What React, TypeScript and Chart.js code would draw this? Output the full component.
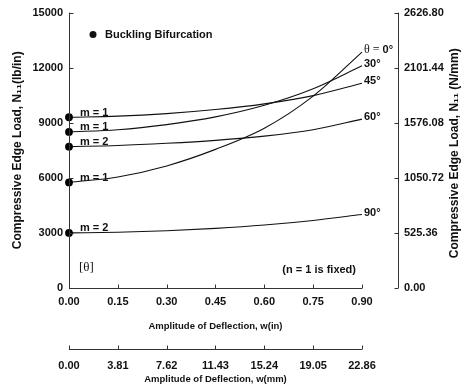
import React, { useEffect, useRef } from 'react';
import { Chart, registerables } from 'chart.js';

Chart.register(...registerables);

// ---- data ----
const W_IN = [0, 0.15, 0.3, 0.45, 0.6, 0.75, 0.9];
const LOAD_0 = [5750, 6050, 6650, 7550, 8700, 10450, 12850];
const LOAD_30 = [8500, 8620, 8900, 9320, 9950, 10850, 12100];
const LOAD_45 = [9300, 9360, 9500, 9720, 10030, 10480, 11150];
const LOAD_60 = [7700, 7760, 7880, 8040, 8270, 8620, 9200];
const LOAD_90 = [3000, 3040, 3120, 3250, 3430, 3680, 4000];
const ANGLES = ['0', '30', '45', '60', '90'];
const MODES = ['m = 1', 'm = 1', 'm = 1', 'm = 2', 'm = 2'];

const X_TICKS_IN = [0, 0.15, 0.3, 0.45, 0.6, 0.75, 0.9];
const X_TICKS_MM = [0, 3.81, 7.62, 11.43, 15.24, 19.05, 22.86];
const Y_TICKS_LB = [0, 3000, 6000, 9000, 12000, 15000];
const Y_TICKS_NMM = [0, 525.36, 1050.72, 1576.08, 2101.44, 2626.8];

const X_MAX_IN = 1.0106;
const INK = '#111';
const AXIS = '#333';
const SANS = '"Liberation Sans", Arial, Helvetica, sans-serif';
const SERIF = '"Liberation Serif", "DejaVu Serif", serif';

const annotations = {
  id: 'annotations',
  afterDraw(chart: any) {
    const ctx = chart.ctx as CanvasRenderingContext2D;
    const sx = chart.scales.x;
    const sx2 = chart.scales.x2;
    const sy = chart.scales.y;
    const sy2 = chart.scales.y2;
    const r = (v: number) => Math.round(v) + 0.5;
    ctx.save();
    ctx.strokeStyle = AXIS;
    ctx.lineWidth = 1;
    const tl = 4;
    // left axis
    const lx = r(sx.getPixelForValue(0));
    ctx.beginPath();
    ctx.moveTo(lx, sy.getPixelForValue(15000));
    ctx.lineTo(lx, sy.getPixelForValue(0));
    Y_TICKS_LB.forEach((v) => {
      const py = r(sy.getPixelForValue(v));
      ctx.moveTo(lx, py);
      ctx.lineTo(lx + tl, py);
    });
    ctx.stroke();
    // bottom axis (in)
    const by = r(sy.getPixelForValue(0));
    ctx.beginPath();
    ctx.moveTo(sx.getPixelForValue(0), by);
    ctx.lineTo(sx.getPixelForValue(0.9), by);
    X_TICKS_IN.forEach((v) => {
      const px = r(sx.getPixelForValue(v));
      ctx.moveTo(px, by);
      ctx.lineTo(px, by - tl);
    });
    ctx.stroke();
    // right axis
    const rx = r(sy2.left);
    ctx.beginPath();
    ctx.moveTo(rx, sy2.getPixelForValue(2626.8));
    ctx.lineTo(rx, sy2.getPixelForValue(0));
    Y_TICKS_NMM.forEach((v) => {
      const py = r(sy2.getPixelForValue(v));
      ctx.moveTo(rx, py);
      ctx.lineTo(rx - tl, py);
    });
    ctx.stroke();
    // second bottom axis (mm)
    const b2 = r(sx2.top);
    ctx.beginPath();
    ctx.moveTo(sx2.getPixelForValue(0), b2);
    ctx.lineTo(sx2.getPixelForValue(22.86), b2);
    X_TICKS_MM.forEach((v) => {
      const px = r(sx2.getPixelForValue(v));
      ctx.moveTo(px, b2);
      ctx.lineTo(px, b2 - tl);
    });
    ctx.stroke();

    ctx.fillStyle = INK;
    // x-axis titles, centred under the tick range
    ctx.font = `bold 9.5px ${SANS}`;
    ctx.textAlign = 'center';
    ctx.textBaseline = 'middle';
    const xc = (sx.getPixelForValue(0) + sx.getPixelForValue(0.9)) / 2;
    ctx.fillText('Amplitude of Deflection, w(in)', xc, sx.bottom - 23);
    ctx.fillText('Amplitude of Deflection, w(mm)', xc, sx2.bottom - 6);

    // right title, reading bottom to top
    ctx.font = `bold 12px ${SANS}`;
    ctx.save();
    ctx.translate(sy2.right - 8, (sy2.top + sy2.bottom) / 2 + 3);
    ctx.rotate(-Math.PI / 2);
    ctx.fillText('Compressive Edge Load, N\u2081\u2081 (N/mm)', 0, 0);
    ctx.restore();

    // mode labels at the bifurcation points
    const series = [LOAD_0, LOAD_30, LOAD_45, LOAD_60, LOAD_90];
    const x0 = sx.getPixelForValue(0);
    ctx.font = `bold 11px ${SANS}`;
    ctx.textAlign = 'left';
    ctx.textBaseline = 'bottom';
    series.forEach((s, i) => {
      ctx.fillText(MODES[i], x0 + 11, sy.getPixelForValue(s[0]) + 1);
    });

    // angle labels at the line ends
    const xe = sx.getPixelForValue(0.9) + 2;
    ctx.textBaseline = 'middle';
    series.forEach((s, i) => {
      const py = sy.getPixelForValue(s[s.length - 1]) - 2;
      let px = xe;
      if (i === 0) {
        ctx.font = `12px ${SERIF}`;
        const pre = '\u03b8 = ';
        ctx.fillText(pre, px, py);
        px += ctx.measureText(pre).width;
      }
      ctx.font = `bold 11px ${SANS}`;
      ctx.fillText(ANGLES[i] + '\u00b0', px, py);
    });

    // [θ] and (n = 1 is fixed)
    const yb = sy.getPixelForValue(0);
    ctx.font = `13px ${SERIF}`;
    ctx.fillText('[\u03b8]', x0 + 10, yb - 20);
    ctx.font = `bold 11px ${SANS}`;
    ctx.textAlign = 'right';
    ctx.fillText('(n = 1 is fixed)', sx.getPixelForValue(0.9) - 6, yb - 18);

    // legend
    const ly = sy.getPixelForValue(15000) + 22;
    ctx.beginPath();
    ctx.arc(x0 + 24, ly, 3.5, 0, Math.PI * 2);
    ctx.fill();
    ctx.textAlign = 'left';
    ctx.fillText('Buckling Bifurcation', x0 + 36, ly);
    ctx.restore();
  },
};

export default function App() {
  const ref = useRef<HTMLCanvasElement>(null);
  useEffect(() => {
    if (!ref.current) return;
    const series = [LOAD_0, LOAD_30, LOAD_45, LOAD_60, LOAD_90];
    const tickFont = { family: SANS, size: 11, weight: 'bold' as const };
    const titleFont = { family: SANS, size: 12, weight: 'bold' as const };
    const noGrid = { display: false, drawTicks: false };
    const chart = new Chart(ref.current, {
      type: 'line',
      data: {
        datasets: series.map((s, i) => ({
          label: ANGLES[i],
          data: W_IN.map((w, j) => ({ x: w, y: s[j] })),
          borderColor: '#111',
          borderWidth: 1.1,
          backgroundColor: '#000',
          pointBackgroundColor: '#000',
          pointBorderWidth: 0,
          pointRadius: (c: any) => (c.dataIndex === 0 ? 3.9 : 0),
          cubicInterpolationMode: 'monotone' as const,
          fill: false,
          clip: false as any,
        })),
      },
      options: {
        animation: false,
        responsive: false,
        devicePixelRatio: 1,
        layout: { padding: { top: 10, left: 0, right: 0, bottom: 0 } },
        plugins: { legend: { display: false }, tooltip: { enabled: false } },
        scales: {
          x: {
            type: 'linear',
            position: 'bottom',
            weight: 0,
            min: 0,
            max: X_MAX_IN,
            grid: noGrid,
            border: { display: false },
            afterBuildTicks: (s: any) => {
              s.ticks = X_TICKS_IN.map((v) => ({ value: v }));
            },
            afterFit: (s: any) => {
              s.height = 61;
            },
            ticks: {
              padding: 7,
              color: INK,
              font: tickFont,
              maxRotation: 0,
              autoSkip: false,
              callback: (v: any) => Number(v).toFixed(2),
            },
            title: { display: false },
          },
          x2: {
            type: 'linear',
            position: 'bottom',
            weight: 1,
            min: 0,
            max: X_MAX_IN * 25.4,
            grid: noGrid,
            border: { display: false },
            afterBuildTicks: (s: any) => {
              s.ticks = X_TICKS_MM.map((v) => ({ value: v }));
            },
            afterFit: (s: any) => {
              s.height = 36;
            },
            ticks: {
              padding: 10,
              color: INK,
              font: tickFont,
              maxRotation: 0,
              autoSkip: false,
              callback: (v: any) => Number(v).toFixed(2),
            },
            title: { display: false },
          },
          y: {
            type: 'linear',
            position: 'left',
            min: 0,
            max: 15000,
            grid: noGrid,
            border: { display: false },
            afterBuildTicks: (s: any) => {
              s.ticks = Y_TICKS_LB.map((v) => ({ value: v }));
            },
            afterFit: (s: any) => {
              s.width = 69;
            },
            ticks: {
              padding: 6,
              color: INK,
              font: tickFont,
              callback: (v: any) => String(v),
            },
            title: {
              display: true,
              text: 'Compressive Edge Load, N\u2081\u2081(lb/in)',
              color: INK,
              font: titleFont,
              padding: { top: 10, bottom: 0 },
            },
          },
          y2: {
            type: 'linear',
            position: 'right',
            min: 0,
            max: 2626.8,
            grid: noGrid,
            border: { display: false },
            afterBuildTicks: (s: any) => {
              s.ticks = Y_TICKS_NMM.map((v) => ({ value: v }));
            },
            afterFit: (s: any) => {
              s.width = 65;
            },
            ticks: {
              padding: 6,
              color: INK,
              font: tickFont,
              callback: (v: any) => Number(v).toFixed(2),
            },
            title: { display: false },
          },
        },
      },
      plugins: [annotations],
    });
    return () => chart.destroy();
  }, []);
  return (
    <div style={{ position: 'fixed', left: 0, top: 0, width: 463, height: 385, background: '#fff' }}>
      <canvas ref={ref} width={463} height={385} style={{ display: 'block' }} />
    </div>
  );
}
